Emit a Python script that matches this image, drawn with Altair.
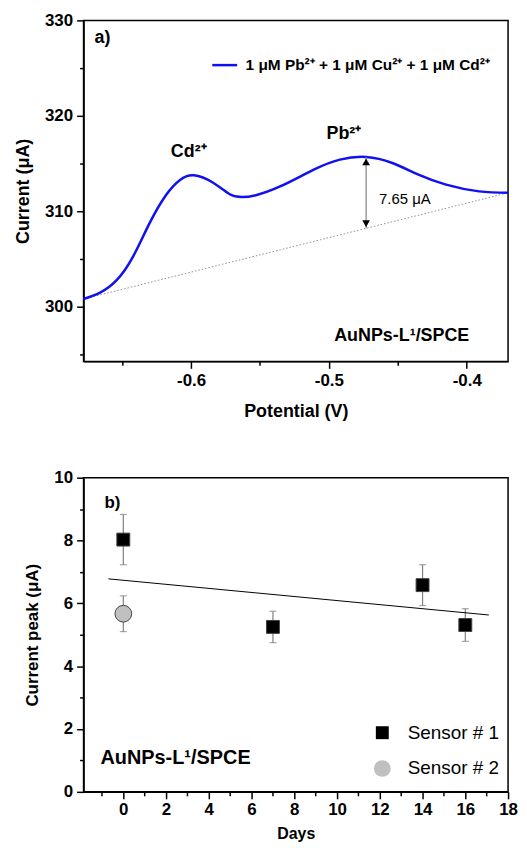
import altair as alt
import pandas as pd

FONT = "Liberation Sans"

# ---------------- panel a) data ----------------
potential = [-0.678, -0.666, -0.654, -0.642, -0.630, -0.618, -0.608, -0.598, -0.584,
             -0.572, -0.563, -0.553, -0.535, -0.511, -0.492, -0.473, -0.454, -0.435,
             -0.415, -0.391, -0.370]
current = [300.83, 301.5, 302.8, 305.3, 308.8, 311.75, 313.3, 313.78, 313.0,
           311.8, 311.5, 311.7, 312.64, 314.37, 315.42, 315.7, 315.07, 313.85,
           312.81, 312.1, 311.95]
series_label = "1 μM Pb²⁺ + 1 μM Cu²⁺ + 1 μM Cd²⁺"

baseline_v = [-0.678, -0.370]
baseline_i = [300.83, 311.95]

arrow_v = [-0.473]
arrow_top = [315.7]
arrow_bottom = [308.2]

peak_labels = ["Cd²⁺", "Pb²⁺"]
peak_label_v = [-0.6017, -0.4891]
peak_label_i = [315.74, 317.62]

delta_label = ["7.65 μA"]
delta_v = [-0.4636]
delta_i = [310.75]

# ---------------- panel b) data ----------------
sensor = ["Sensor # 1", "Sensor # 1", "Sensor # 1", "Sensor # 1", "Sensor # 2"]
days = [0, 7, 14, 16, 0]
peak = [8.03, 5.25, 6.58, 5.31, 5.67]
err = [0.80, 0.50, 0.65, 0.52, 0.57]

fit_days = [-0.7, 17.1]
fit_peak = [6.78, 5.63]

# ---------------- frames ----------------
df_curve = pd.DataFrame({"V": potential, "I": current, "series": series_label})
df_base = pd.DataFrame({"V": baseline_v, "I": baseline_i})
df_arrow = pd.DataFrame({"V": arrow_v, "top": arrow_top, "bottom": arrow_bottom})
df_peaks = pd.DataFrame({"V": peak_label_v, "I": peak_label_i, "t": peak_labels})
df_delta = pd.DataFrame({"V": delta_v, "I": delta_i, "t": delta_label})

df_pts = pd.DataFrame({"sensor": sensor, "day": days, "peak": peak, "err": err})
df_pts["lo"] = df_pts["peak"] - df_pts["err"]
df_pts["hi"] = df_pts["peak"] + df_pts["err"]
df_fit = pd.DataFrame({"day": fit_days, "peak": fit_peak})

# ---------------- axes ----------------
def minor_size(test):
    return {"condition": {"test": test, "value": 4}, "value": 7}

xa_axis = alt.Axis(
    title="Potential (V)",
    values=[-0.65, -0.6, -0.55, -0.5, -0.45, -0.4],
    labelExpr="abs(round(datum.value*100)) % 10 == 0 ? '-' + format(abs(datum.value), '.1f') : ''",
    tickSize=minor_size("abs(round(datum.value*100)) % 10 != 0"),
    titlePadding=14,
    labelFlush=False,
)
ya_axis = alt.Axis(
    title="Current (μA)",
    values=[295, 300, 305, 310, 315, 320, 325, 330],
    labelExpr="datum.value % 10 == 0 ? datum.label : ''",
    tickSize=minor_size("datum.value % 10 != 0"),
    labelFlush=False,
)
xa_scale = alt.Scale(domain=[-0.678, -0.370], nice=False, zero=False)
ya_scale = alt.Scale(domain=[294.3, 330], nice=False, zero=False)


def XA(f):
    return alt.X(f"{f}:Q", scale=xa_scale, axis=xa_axis)


def YA(f):
    return alt.Y(f"{f}:Q", scale=ya_scale, axis=ya_axis)


xb_axis = alt.Axis(
    title="Days",
    values=list(range(-1, 19)),
    labelExpr="datum.value % 2 == 0 ? datum.label : ''",
    tickSize=minor_size("datum.value % 2 != 0"),
    labelPadding=3,
    titlePadding=8,
    titleFontSize=16,
    labelFlush=False,
)
yb_axis = alt.Axis(
    title="Current peak (μA)",
    values=list(range(0, 11)),
    labelExpr="datum.value % 2 == 0 ? datum.label : ''",
    tickSize=minor_size("datum.value % 2 != 0"),
    titleFontSize=17,
    labelFlush=False,
)
xb_scale = alt.Scale(domain=[-1.86, 18], nice=False, zero=False)
yb_scale = alt.Scale(domain=[0, 10], nice=False, zero=False)


def XB(f):
    return alt.X(f"{f}:Q", scale=xb_scale, axis=xb_axis)


def YB(f):
    return alt.Y(f"{f}:Q", scale=yb_scale, axis=yb_axis)


# ---------------- panel a) ----------------
curve = alt.Chart(df_curve).mark_line(strokeWidth=2.5, interpolate="natural").encode(
    x=XA("V"), y=YA("I"),
    color=alt.Color("series:N",
                    scale=alt.Scale(domain=[series_label], range=["#1010f0"]),
                    legend=alt.Legend(orient="none", legendX=128, legendY=31, title=None,
                                      symbolType="stroke", symbolSize=625,
                                      symbolStrokeWidth=2.5, labelFont=FONT,
                                      labelFontWeight="bold", labelFontSize=15.5,
                                      labelColor="black", labelOffset=7, padding=0,
                                      labelLimit=400)),
)
base_line = alt.Chart(df_base).mark_line(color="#909090", strokeWidth=1, strokeDash=[1.5, 2]).encode(
    x=XA("V"), y=YA("I"))
shaft = alt.Chart(df_arrow).mark_rule(color="#808080", strokeWidth=1.2).encode(
    x=XA("V"), y=YA("top"), y2="bottom")
head_up = alt.Chart(df_arrow).mark_point(shape="triangle-up", filled=True, color="black",
                                         size=60, yOffset=5, opacity=1).encode(
    x=XA("V"), y=YA("top"))
head_down = alt.Chart(df_arrow).mark_point(shape="triangle-down", filled=True, color="black",
                                           size=60, yOffset=-5, opacity=1).encode(
    x=XA("V"), y=YA("bottom"))
peaks_txt = alt.Chart(df_peaks).mark_text(font=FONT, fontWeight="bold", fontSize=18,
                                          baseline="alphabetic", align="center",
                                          color="black").encode(
    x=XA("V"), y=YA("I"), text="t:N")
delta_txt = alt.Chart(df_delta).mark_text(font=FONT, fontSize=15, baseline="alphabetic",
                                          align="left", color="black").encode(
    x=XA("V"), y=YA("I"), text="t:N")
a_lbl = alt.Chart(pd.DataFrame({"t": ["a)"]})).mark_text(
    font=FONT, fontWeight="bold", fontSize=18, align="left", baseline="alphabetic",
    color="black").encode(x=alt.value(11), y=alt.value(23), text="t:N")
a_name = alt.Chart(pd.DataFrame({"t": ["AuNPs-L¹/SPCE"]})).mark_text(
    font=FONT, fontWeight="bold", fontSize=18, align="right", baseline="alphabetic",
    color="black").encode(x=alt.value(388), y=alt.value(323), text="t:N")

top = alt.layer(base_line, curve, shaft, head_up, head_down, peaks_txt, delta_txt,
                a_lbl, a_name).properties(width=427, height=343)

# ---------------- panel b) ----------------
L = alt.Legend(orient="none", legendX=291, legendY=247, title=None, labelFont=FONT,
               labelFontSize=19, labelColor="black", labelOffset=16, rowPadding=15,
               padding=0, symbolStrokeColor="#444444", symbolStrokeWidth=1)
SENS = ["Sensor # 1", "Sensor # 2"]

err_rule = alt.Chart(df_pts).mark_rule(color="#808080", strokeWidth=1.2).encode(
    x=XB("day"), y=YB("lo"), y2="hi")
cap_lo = alt.Chart(df_pts).mark_tick(orient="horizontal", color="#808080", size=7,
                                     thickness=1.2).encode(x=XB("day"), y=YB("lo"))
cap_hi = alt.Chart(df_pts).mark_tick(orient="horizontal", color="#808080", size=7,
                                     thickness=1.2).encode(x=XB("day"), y=YB("hi"))
fit = alt.Chart(df_fit).mark_line(color="black", strokeWidth=1).encode(
    x=XB("day"), y=YB("peak"))
pts = alt.Chart(df_pts).mark_point(filled=True, opacity=1, stroke="#444444",
                                   strokeWidth=1).encode(
    x=XB("day"), y=YB("peak"),
    fill=alt.Fill("sensor:N", scale=alt.Scale(domain=SENS, range=["black", "#c0c0c0"]), legend=L),
    shape=alt.Shape("sensor:N", scale=alt.Scale(domain=SENS, range=["square", "circle"]), legend=L),
    size=alt.Size("sensor:N", scale=alt.Scale(domain=SENS, range=[169, 283]), legend=L),
)
b_lbl = alt.Chart(pd.DataFrame({"t": ["b)"]})).mark_text(
    font=FONT, fontWeight="bold", fontSize=17, align="left", baseline="alphabetic",
    color="black").encode(x=alt.value(21), y=alt.value(30), text="t:N")
b_name = alt.Chart(pd.DataFrame({"t": ["AuNPs-L¹/SPCE"]})).mark_text(
    font=FONT, fontWeight="bold", fontSize=20, align="left", baseline="alphabetic",
    color="black").encode(x=alt.value(17), y=alt.value(288), text="t:N")

bottom = alt.layer(err_rule, cap_lo, cap_hi, fit, pts, b_lbl, b_name).properties(
    width=427, height=316)

chart = alt.vconcat(top, bottom, spacing=47).resolve_scale(
    color="independent", fill="independent", shape="independent", size="independent"
).properties(
    padding={"left": 5, "top": 0, "right": 0, "bottom": 0},
    background="white",
).configure_view(stroke="black", strokeWidth=1.5).configure_axis(
    domainColor="black", domainWidth=1.5, tickColor="black", tickWidth=1.5,
    labelFont=FONT, labelFontWeight="bold", labelFontSize=17, labelColor="black",
    titleFont=FONT, titleFontWeight="bold", titleFontSize=18, titleColor="black",
    grid=False, labelPadding=4, titlePadding=12,
)

chart.save("out.html", embed_options={"renderer": "svg", "actions": False})
